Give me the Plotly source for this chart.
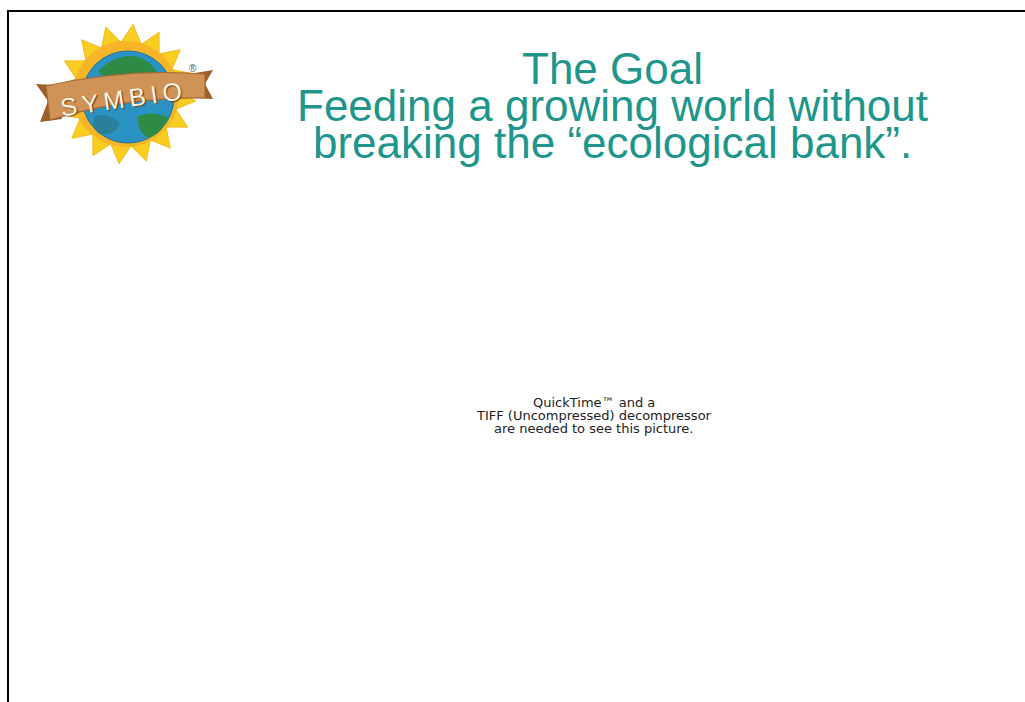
import math
import plotly.graph_objects as go

W, H = 1025, 702

# ---- text content ----
title_lines = ["The Goal",
               "Feeding a growing world without",
               "breaking the \u201cecological bank\u201d."]
title_baselines = [83, 120, 157]
placeholder_lines = ["QuickTime\u2122 and a",
                     "TIFF (Uncompressed) decompressor",
                     "are needed to see this picture."]
placeholder_baselines = [406, 419, 432]
logo_word = "SYMBIO"

TEAL = "#1e968b"

fig = go.Figure()
fig.add_trace(go.Scatter(x=[1], y=[1], mode="markers", marker=dict(opacity=0),
                         hoverinfo="skip", showlegend=False))

shapes = []
# slide border (top and left edges)
shapes.append(dict(type="line", x0=7, y0=11, x1=W, y1=11,
                   line=dict(color="black", width=2)))
shapes.append(dict(type="line", x0=8, y0=10, x1=8, y1=H,
                   line=dict(color="black", width=2)))

# ---- logo: sun ----
cx, cy = 126, 94
n_rays = 16
pts = []
for i in range(n_rays * 2):
    ang = math.pi * i / n_rays - math.pi / 2 + 0.1
    r = 70 if i % 2 == 0 else 52
    pts.append((cx + r * math.cos(ang), cy + r * math.sin(ang)))
path = "M " + " L ".join(f"{x:.1f},{y:.1f}" for x, y in pts) + " Z"
shapes.append(dict(type="path", path=path, fillcolor="#f8cd22",
                   line=dict(color="#f3bb1a", width=1)))
shapes.append(dict(type="circle", x0=cx - 53, y0=cy - 53, x1=cx + 53, y1=cy + 53,
                   fillcolor="#f6b526", line=dict(width=0)))
# globe
gx, gy, gr = 128, 97, 46
shapes.append(dict(type="circle", x0=gx - gr, y0=gy - gr, x1=gx + gr, y1=gy + gr,
                   fillcolor="#2b93c4", line=dict(color="#1f6f96", width=1)))
shapes.append(dict(type="path",
                   path="M 98,72 Q 112,55 135,56 Q 152,60 158,76 Q 140,82 128,77 Q 110,82 98,72 Z",
                   fillcolor="#2e8b45", line=dict(width=0)))
shapes.append(dict(type="path",
                   path="M 138,116 Q 156,110 168,118 Q 162,134 148,138 Q 136,130 138,116 Z",
                   fillcolor="#2e8b45", line=dict(width=0)))
shapes.append(dict(type="path",
                   path="M 95,116 Q 110,112 120,124 Q 112,138 98,133 Q 90,126 95,116 Z",
                   fillcolor="#2a7f99", line=dict(width=0)))
# ribbon
shapes.append(dict(type="path",
                   path="M 36,84 L 48,101 L 40,122 L 62,119 L 56,85 Z",
                   fillcolor="#9c5f2c", line=dict(width=0)))
shapes.append(dict(type="path",
                   path="M 213,70 L 205,84 L 213,99 L 194,98 L 195,73 Z",
                   fillcolor="#9c5f2c", line=dict(width=0)))
shapes.append(dict(type="path",
                   path="M 46,86 Q 125,68 205,74 L 205,98 Q 125,97 50,120 Z",
                   fillcolor="#cf9257", line=dict(color="#a9682f", width=1.2)))

fig.update_layout(shapes=shapes)

ann = []
for txt, base in zip(title_lines, title_baselines):
    ann.append(dict(x=612, y=base - 15, text=txt, showarrow=False,
                    xanchor="center", yanchor="middle",
                    font=dict(family="Liberation Sans, Arial", size=44, color=TEAL)))
for txt, base in zip(placeholder_lines, placeholder_baselines):
    ann.append(dict(x=594, y=base - 4, text=txt, showarrow=False,
                    xanchor="center", yanchor="middle",
                    font=dict(family="DejaVu Sans", size=13, color="#222222")))
ann.append(dict(x=121, y=99, text="\u2009".join(logo_word), showarrow=False,
                textangle=-8, xanchor="center", yanchor="middle",
                font=dict(family="Liberation Sans, Arial", size=25, color="#fbf3e4",
                          shadow="1px 1px 1px #6b3d17")))
ann.append(dict(x=193, y=68, text="\u00ae", showarrow=False,
                font=dict(family="Liberation Sans, Arial", size=10, color="#555555")))

fig.update_layout(
    annotations=ann,
    width=W, height=H,
    margin=dict(l=0, r=0, t=0, b=0),
    paper_bgcolor="white", plot_bgcolor="white",
    xaxis=dict(range=[0, W], visible=False, fixedrange=True),
    yaxis=dict(range=[H, 0], visible=False, fixedrange=True),
    showlegend=False,
)
for a in fig.layout.annotations:
    a.xref = "x"
    a.yref = "y"
for s in fig.layout.shapes:
    s.xref = "x"
    s.yref = "y"

fig.write_html("out.html",
               config={"displayModeBar": False},
               post_script="document.body.style.margin='0px';document.body.style.overflow='hidden';")
